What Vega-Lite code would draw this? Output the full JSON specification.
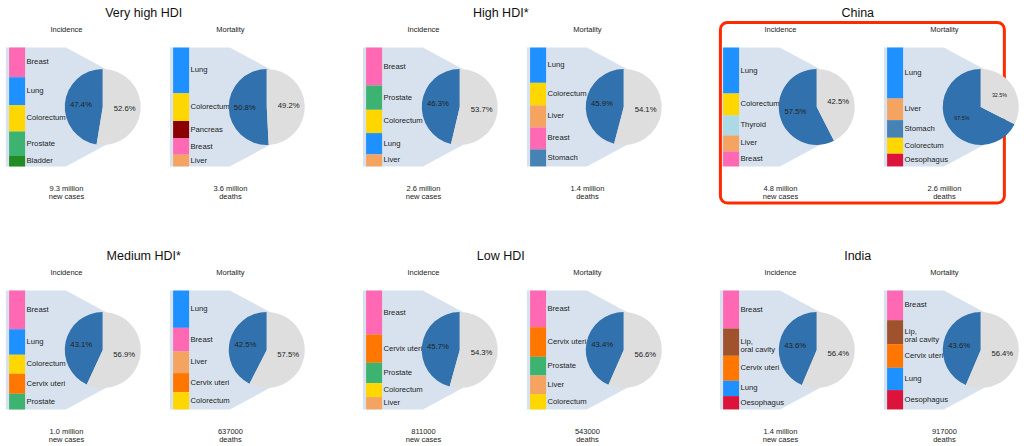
{
"$schema": "https://vega.github.io/schema/vega-lite/v6.json",
"padding": {"left": 0, "right": 0, "top": 0, "bottom": 0},
"background": "white",
"config": {"view": {"stroke": null}, "font": "Liberation Sans", "axis": {"disable": true}, "text": {"font": "Liberation Sans", "fill": "#222222"}},
"columns": 3,
"spacing": {"row": 35, "column": 48},
"datasets": {"cells": [
{"kind":"bar","region":"Very high HDI","type":"Incidence","rank":1,"cancer":"Breast","value":89},
{"kind":"bar","region":"Very high HDI","type":"Incidence","rank":2,"cancer":"Lung","value":84},
{"kind":"bar","region":"Very high HDI","type":"Incidence","rank":3,"cancer":"Colorectum","value":79},
{"kind":"bar","region":"Very high HDI","type":"Incidence","rank":4,"cancer":"Prostate","value":74},
{"kind":"bar","region":"Very high HDI","type":"Incidence","rank":5,"cancer":"Bladder","value":31},
{"kind":"bar","region":"Very high HDI","type":"Mortality","rank":1,"cancer":"Lung","value":137},
{"kind":"bar","region":"Very high HDI","type":"Mortality","rank":2,"cancer":"Colorectum","value":83},
{"kind":"bar","region":"Very high HDI","type":"Mortality","rank":3,"cancer":"Pancreas","value":52},
{"kind":"bar","region":"Very high HDI","type":"Mortality","rank":4,"cancer":"Breast","value":49},
{"kind":"bar","region":"Very high HDI","type":"Mortality","rank":5,"cancer":"Liver","value":35},
{"kind":"bar","region":"High HDI*","type":"Incidence","rank":1,"cancer":"Breast","value":114},
{"kind":"bar","region":"High HDI*","type":"Incidence","rank":2,"cancer":"Prostate","value":73},
{"kind":"bar","region":"High HDI*","type":"Incidence","rank":3,"cancer":"Colorectum","value":70},
{"kind":"bar","region":"High HDI*","type":"Incidence","rank":4,"cancer":"Lung","value":64},
{"kind":"bar","region":"High HDI*","type":"Incidence","rank":5,"cancer":"Liver","value":36},
{"kind":"bar","region":"High HDI*","type":"Mortality","rank":1,"cancer":"Lung","value":106},
{"kind":"bar","region":"High HDI*","type":"Mortality","rank":2,"cancer":"Colorectum","value":68},
{"kind":"bar","region":"High HDI*","type":"Mortality","rank":3,"cancer":"Liver","value":66},
{"kind":"bar","region":"High HDI*","type":"Mortality","rank":4,"cancer":"Breast","value":66},
{"kind":"bar","region":"High HDI*","type":"Mortality","rank":5,"cancer":"Stomach","value":51},
{"kind":"bar","region":"China","type":"Incidence","rank":1,"cancer":"Lung","value":138},
{"kind":"bar","region":"China","type":"Incidence","rank":2,"cancer":"Colorectum","value":66},
{"kind":"bar","region":"China","type":"Incidence","rank":3,"cancer":"Thyroid","value":60},
{"kind":"bar","region":"China","type":"Incidence","rank":4,"cancer":"Liver","value":48},
{"kind":"bar","region":"China","type":"Incidence","rank":5,"cancer":"Breast","value":45},
{"kind":"bar","region":"China","type":"Mortality","rank":1,"cancer":"Lung","value":153},
{"kind":"bar","region":"China","type":"Mortality","rank":2,"cancer":"Liver","value":65},
{"kind":"bar","region":"China","type":"Mortality","rank":3,"cancer":"Stomach","value":53},
{"kind":"bar","region":"China","type":"Mortality","rank":4,"cancer":"Colorectum","value":48},
{"kind":"bar","region":"China","type":"Mortality","rank":5,"cancer":"Oesophagus","value":38},
{"kind":"bar","region":"Medium HDI*","type":"Incidence","rank":1,"cancer":"Breast","value":116},
{"kind":"bar","region":"Medium HDI*","type":"Incidence","rank":2,"cancer":"Lung","value":77},
{"kind":"bar","region":"Medium HDI*","type":"Incidence","rank":3,"cancer":"Colorectum","value":57},
{"kind":"bar","region":"Medium HDI*","type":"Incidence","rank":4,"cancer":"Cervix uteri","value":60},
{"kind":"bar","region":"Medium HDI*","type":"Incidence","rank":5,"cancer":"Prostate","value":47},
{"kind":"bar","region":"Medium HDI*","type":"Mortality","rank":1,"cancer":"Lung","value":112},
{"kind":"bar","region":"Medium HDI*","type":"Mortality","rank":2,"cancer":"Breast","value":71},
{"kind":"bar","region":"Medium HDI*","type":"Mortality","rank":3,"cancer":"Liver","value":65},
{"kind":"bar","region":"Medium HDI*","type":"Mortality","rank":4,"cancer":"Cervix uteri","value":57},
{"kind":"bar","region":"Medium HDI*","type":"Mortality","rank":5,"cancer":"Colorectum","value":52},
{"kind":"bar","region":"Low HDI","type":"Incidence","rank":1,"cancer":"Breast","value":132},
{"kind":"bar","region":"Low HDI","type":"Incidence","rank":2,"cancer":"Cervix uteri","value":85},
{"kind":"bar","region":"Low HDI","type":"Incidence","rank":3,"cancer":"Prostate","value":61},
{"kind":"bar","region":"Low HDI","type":"Incidence","rank":4,"cancer":"Colorectum","value":42},
{"kind":"bar","region":"Low HDI","type":"Incidence","rank":5,"cancer":"Liver","value":37},
{"kind":"bar","region":"Low HDI","type":"Mortality","rank":1,"cancer":"Breast","value":110},
{"kind":"bar","region":"Low HDI","type":"Mortality","rank":2,"cancer":"Cervix uteri","value":89},
{"kind":"bar","region":"Low HDI","type":"Mortality","rank":3,"cancer":"Prostate","value":56},
{"kind":"bar","region":"Low HDI","type":"Mortality","rank":4,"cancer":"Liver","value":56},
{"kind":"bar","region":"Low HDI","type":"Mortality","rank":5,"cancer":"Colorectum","value":46},
{"kind":"bar","region":"India","type":"Incidence","rank":1,"cancer":"Breast","value":114},
{"kind":"bar","region":"India","type":"Incidence","rank":2,"cancer":"Lip,\noral cavity","value":82},
{"kind":"bar","region":"India","type":"Incidence","rank":3,"cancer":"Cervix uteri","value":75},
{"kind":"bar","region":"India","type":"Incidence","rank":4,"cancer":"Lung","value":46},
{"kind":"bar","region":"India","type":"Incidence","rank":5,"cancer":"Oesophagus","value":40},
{"kind":"bar","region":"India","type":"Mortality","rank":1,"cancer":"Breast","value":89},
{"kind":"bar","region":"India","type":"Mortality","rank":2,"cancer":"Lip,\noral cavity","value":72},
{"kind":"bar","region":"India","type":"Mortality","rank":3,"cancer":"Cervix uteri","value":71},
{"kind":"bar","region":"India","type":"Mortality","rank":4,"cancer":"Lung","value":67},
{"kind":"bar","region":"India","type":"Mortality","rank":5,"cancer":"Oesophagus","value":58},
{"kind":"pie","region":"Very high HDI","type":"Incidence","part":"Top 5 cancers","pct":0.474},
{"kind":"pie","region":"Very high HDI","type":"Incidence","part":"Other cancers","pct":0.526},
{"kind":"pie","region":"Very high HDI","type":"Mortality","part":"Top 5 cancers","pct":0.508},
{"kind":"pie","region":"Very high HDI","type":"Mortality","part":"Other cancers","pct":0.492},
{"kind":"pie","region":"High HDI*","type":"Incidence","part":"Top 5 cancers","pct":0.463},
{"kind":"pie","region":"High HDI*","type":"Incidence","part":"Other cancers","pct":0.537},
{"kind":"pie","region":"High HDI*","type":"Mortality","part":"Top 5 cancers","pct":0.459},
{"kind":"pie","region":"High HDI*","type":"Mortality","part":"Other cancers","pct":0.541},
{"kind":"pie","region":"China","type":"Incidence","part":"Top 5 cancers","pct":0.575},
{"kind":"pie","region":"China","type":"Incidence","part":"Other cancers","pct":0.425},
{"kind":"pie","region":"China","type":"Mortality","part":"Top 5 cancers","pct":0.675},
{"kind":"pie","region":"China","type":"Mortality","part":"Other cancers","pct":0.325},
{"kind":"pie","region":"Medium HDI*","type":"Incidence","part":"Top 5 cancers","pct":0.431},
{"kind":"pie","region":"Medium HDI*","type":"Incidence","part":"Other cancers","pct":0.569},
{"kind":"pie","region":"Medium HDI*","type":"Mortality","part":"Top 5 cancers","pct":0.425},
{"kind":"pie","region":"Medium HDI*","type":"Mortality","part":"Other cancers","pct":0.575},
{"kind":"pie","region":"Low HDI","type":"Incidence","part":"Top 5 cancers","pct":0.457},
{"kind":"pie","region":"Low HDI","type":"Incidence","part":"Other cancers","pct":0.543},
{"kind":"pie","region":"Low HDI","type":"Mortality","part":"Top 5 cancers","pct":0.434},
{"kind":"pie","region":"Low HDI","type":"Mortality","part":"Other cancers","pct":0.566},
{"kind":"pie","region":"India","type":"Incidence","part":"Top 5 cancers","pct":0.436},
{"kind":"pie","region":"India","type":"Incidence","part":"Other cancers","pct":0.564},
{"kind":"pie","region":"India","type":"Mortality","part":"Top 5 cancers","pct":0.436},
{"kind":"pie","region":"India","type":"Mortality","part":"Other cancers","pct":0.564},
{"kind":"total","region":"Very high HDI","type":"Incidence","total":"9.3 million","unit":"new cases"},
{"kind":"total","region":"Very high HDI","type":"Mortality","total":"3.6 million","unit":"deaths"},
{"kind":"total","region":"High HDI*","type":"Incidence","total":"2.6 million","unit":"new cases"},
{"kind":"total","region":"High HDI*","type":"Mortality","total":"1.4 million","unit":"deaths"},
{"kind":"total","region":"China","type":"Incidence","total":"4.8 million","unit":"new cases"},
{"kind":"total","region":"China","type":"Mortality","total":"2.6 million","unit":"deaths"},
{"kind":"total","region":"Medium HDI*","type":"Incidence","total":"1.0 million","unit":"new cases"},
{"kind":"total","region":"Medium HDI*","type":"Mortality","total":"637000","unit":"deaths"},
{"kind":"total","region":"Low HDI","type":"Incidence","total":"811000","unit":"new cases"},
{"kind":"total","region":"Low HDI","type":"Mortality","total":"543000","unit":"deaths"},
{"kind":"total","region":"India","type":"Incidence","total":"1.4 million","unit":"new cases"},
{"kind":"total","region":"India","type":"Mortality","total":"917000","unit":"deaths"}
]},
"concat": [
{"data": {"name": "cells"}, "transform": [{"filter": "datum.region === 'Very high HDI'"}],
 "facet": {"column": {"field": "type", "header": null}}, "spacing": 19, "bounds": "flush",
 "spec": {"width": 145, "height": 208, "layer": [
  {"transform": [{"filter": "datum.kind === 'total'"}], "mark": {"type": "point", "shape": "M -0.924 -1 L 0.084 -1 L 0.756 -0.639 L 0.756 0.639 L 0.084 1 L -0.924 1 Z", "filled": true, "fill": "#d8e2ef", "opacity": 1, "size": 14161, "strokeWidth": 0},
   "encoding": {"x": {"datum": 55, "type": "quantitative", "scale": {"domain": [-5, 140], "nice": false, "zero": false}, "axis": null}, "y": {"datum": 0.5, "type": "quantitative", "scale": {"domain": [-0.35, 1.4], "nice": false, "zero": false}, "axis": null}}},
  {"transform": [{"filter": "datum.kind === 'bar'"}], "mark": {"type": "bar", "orient": "vertical", "width": 16},
   "encoding": {"x": {"datum": 8, "type": "quantitative"}, "y": {"field": "value", "type": "quantitative", "stack": "normalize"}, "order": {"field": "rank", "sort": "descending"},
    "color": {"field": "cancer", "type": "nominal", "legend": null, "scale": {"domain": ["Breast","Lung","Colorectum","Prostate","Bladder","Pancreas","Liver","Stomach","Thyroid","Oesophagus","Cervix uteri","Lip,\noral cavity"], "range": ["#ff69b4","#1e90ff","#ffd700","#3cb371","#228b22","#8b0000","#f4a460","#4682b4","#add8e6","#dc143c","#ff7700","#a0522d"]}}}},
  {"transform": [{"filter": "datum.kind === 'bar'"}], "mark": {"type": "text", "align": "left", "baseline": "middle", "fontSize": 7.7, "lineBreak": "\n", "lineHeight": 8},
   "encoding": {"x": {"datum": 18, "type": "quantitative"}, "y": {"field": "value", "type": "quantitative", "stack": "normalize", "bandPosition": 0.5}, "order": {"field": "rank", "sort": "descending"}, "text": {"field": "cancer"}}},
  {"transform": [{"filter": "datum.kind === 'pie'"}], "mark": {"type": "arc", "outerRadius": 38},
   "encoding": {"x": {"datum": 100, "type": "quantitative"}, "y": {"datum": 0.5, "type": "quantitative"}, "theta": {"field": "pct", "type": "quantitative", "stack": true}, "order": {"field": "part"},
    "fill": {"field": "part", "type": "nominal", "legend": null, "scale": {"domain": ["Other cancers", "Top 5 cancers"], "range": ["#dedede", "#3171ad"]}}}},
  {"transform": [{"filter": "datum.kind === 'pie'"}], "mark": {"type": "text", "radius": 22, "baseline": "middle"},
   "encoding": {"x": {"datum": 100, "type": "quantitative"}, "y": {"datum": 0.5, "type": "quantitative"}, "theta": {"field": "pct", "type": "quantitative", "stack": true}, "order": {"field": "part"},
    "text": {"field": "pct", "type": "quantitative", "format": ".1%"}, "size": {"condition": {"test": "datum.region === 'China' && datum.type === 'Mortality'", "value": 5.4}, "value": 7.7}}},
  {"transform": [{"filter": "datum.kind === 'total'"}], "mark": {"type": "text", "fontSize": 7.5, "baseline": "middle"},
   "encoding": {"x": {"datum": 61, "type": "quantitative"}, "y": {"datum": -0.19, "type": "quantitative"}, "text": {"field": "total"}}},
  {"transform": [{"filter": "datum.kind === 'total'"}], "mark": {"type": "text", "fontSize": 7.5, "baseline": "middle"},
   "encoding": {"x": {"datum": 61, "type": "quantitative"}, "y": {"datum": -0.257, "type": "quantitative"}, "text": {"field": "unit"}}},
  {"transform": [{"filter": "datum.kind === 'total'"}], "mark": {"type": "text", "fontSize": 7.5, "baseline": "middle"},
   "encoding": {"x": {"datum": 61, "type": "quantitative"}, "y": {"datum": 1.148, "type": "quantitative"}, "text": {"field": "type"}}},
  {"transform": [{"filter": "datum.kind === 'total' && datum.type === 'Incidence'"}], "mark": {"type": "text", "fontSize": 12.5, "baseline": "middle", "fill": "#111111"},
   "encoding": {"x": {"datum": 144, "type": "quantitative"}, "y": {"datum": 1.29, "type": "quantitative"}, "text": {"field": "region"}}},
  {"transform": [{"filter": "datum.kind === 'total' && datum.type === 'Incidence' && datum.region === 'China'"}], "mark": {"type": "rect", "filled": false, "stroke": "#ff2a00", "strokeWidth": 3, "cornerRadius": 7},
   "encoding": {"x": {"datum": -3.5, "type": "quantitative"}, "x2": {"datum": 301.5}, "y": {"datum": 1.211, "type": "quantitative"}, "y2": {"datum": -0.308}}}
 ]}},
{"data": {"name": "cells"}, "transform": [{"filter": "datum.region === 'High HDI*'"}],
 "facet": {"column": {"field": "type", "header": null}}, "spacing": 19, "bounds": "flush",
 "spec": {"width": 145, "height": 208, "layer": [
  {"transform": [{"filter": "datum.kind === 'total'"}], "mark": {"type": "point", "shape": "M -0.924 -1 L 0.084 -1 L 0.756 -0.639 L 0.756 0.639 L 0.084 1 L -0.924 1 Z", "filled": true, "fill": "#d8e2ef", "opacity": 1, "size": 14161, "strokeWidth": 0},
   "encoding": {"x": {"datum": 55, "type": "quantitative", "scale": {"domain": [-5, 140], "nice": false, "zero": false}, "axis": null}, "y": {"datum": 0.5, "type": "quantitative", "scale": {"domain": [-0.35, 1.4], "nice": false, "zero": false}, "axis": null}}},
  {"transform": [{"filter": "datum.kind === 'bar'"}], "mark": {"type": "bar", "orient": "vertical", "width": 16},
   "encoding": {"x": {"datum": 8, "type": "quantitative"}, "y": {"field": "value", "type": "quantitative", "stack": "normalize"}, "order": {"field": "rank", "sort": "descending"},
    "color": {"field": "cancer", "type": "nominal", "legend": null, "scale": {"domain": ["Breast","Lung","Colorectum","Prostate","Bladder","Pancreas","Liver","Stomach","Thyroid","Oesophagus","Cervix uteri","Lip,\noral cavity"], "range": ["#ff69b4","#1e90ff","#ffd700","#3cb371","#228b22","#8b0000","#f4a460","#4682b4","#add8e6","#dc143c","#ff7700","#a0522d"]}}}},
  {"transform": [{"filter": "datum.kind === 'bar'"}], "mark": {"type": "text", "align": "left", "baseline": "middle", "fontSize": 7.7, "lineBreak": "\n", "lineHeight": 8},
   "encoding": {"x": {"datum": 18, "type": "quantitative"}, "y": {"field": "value", "type": "quantitative", "stack": "normalize", "bandPosition": 0.5}, "order": {"field": "rank", "sort": "descending"}, "text": {"field": "cancer"}}},
  {"transform": [{"filter": "datum.kind === 'pie'"}], "mark": {"type": "arc", "outerRadius": 38},
   "encoding": {"x": {"datum": 100, "type": "quantitative"}, "y": {"datum": 0.5, "type": "quantitative"}, "theta": {"field": "pct", "type": "quantitative", "stack": true}, "order": {"field": "part"},
    "fill": {"field": "part", "type": "nominal", "legend": null, "scale": {"domain": ["Other cancers", "Top 5 cancers"], "range": ["#dedede", "#3171ad"]}}}},
  {"transform": [{"filter": "datum.kind === 'pie'"}], "mark": {"type": "text", "radius": 22, "baseline": "middle"},
   "encoding": {"x": {"datum": 100, "type": "quantitative"}, "y": {"datum": 0.5, "type": "quantitative"}, "theta": {"field": "pct", "type": "quantitative", "stack": true}, "order": {"field": "part"},
    "text": {"field": "pct", "type": "quantitative", "format": ".1%"}, "size": {"condition": {"test": "datum.region === 'China' && datum.type === 'Mortality'", "value": 5.4}, "value": 7.7}}},
  {"transform": [{"filter": "datum.kind === 'total'"}], "mark": {"type": "text", "fontSize": 7.5, "baseline": "middle"},
   "encoding": {"x": {"datum": 61, "type": "quantitative"}, "y": {"datum": -0.19, "type": "quantitative"}, "text": {"field": "total"}}},
  {"transform": [{"filter": "datum.kind === 'total'"}], "mark": {"type": "text", "fontSize": 7.5, "baseline": "middle"},
   "encoding": {"x": {"datum": 61, "type": "quantitative"}, "y": {"datum": -0.257, "type": "quantitative"}, "text": {"field": "unit"}}},
  {"transform": [{"filter": "datum.kind === 'total'"}], "mark": {"type": "text", "fontSize": 7.5, "baseline": "middle"},
   "encoding": {"x": {"datum": 61, "type": "quantitative"}, "y": {"datum": 1.148, "type": "quantitative"}, "text": {"field": "type"}}},
  {"transform": [{"filter": "datum.kind === 'total' && datum.type === 'Incidence'"}], "mark": {"type": "text", "fontSize": 12.5, "baseline": "middle", "fill": "#111111"},
   "encoding": {"x": {"datum": 144, "type": "quantitative"}, "y": {"datum": 1.29, "type": "quantitative"}, "text": {"field": "region"}}},
  {"transform": [{"filter": "datum.kind === 'total' && datum.type === 'Incidence' && datum.region === 'China'"}], "mark": {"type": "rect", "filled": false, "stroke": "#ff2a00", "strokeWidth": 3, "cornerRadius": 7},
   "encoding": {"x": {"datum": -3.5, "type": "quantitative"}, "x2": {"datum": 301.5}, "y": {"datum": 1.211, "type": "quantitative"}, "y2": {"datum": -0.308}}}
 ]}},
{"data": {"name": "cells"}, "transform": [{"filter": "datum.region === 'China'"}],
 "facet": {"column": {"field": "type", "header": null}}, "spacing": 19, "bounds": "flush",
 "spec": {"width": 145, "height": 208, "layer": [
  {"transform": [{"filter": "datum.kind === 'total'"}], "mark": {"type": "point", "shape": "M -0.924 -1 L 0.084 -1 L 0.756 -0.639 L 0.756 0.639 L 0.084 1 L -0.924 1 Z", "filled": true, "fill": "#d8e2ef", "opacity": 1, "size": 14161, "strokeWidth": 0},
   "encoding": {"x": {"datum": 55, "type": "quantitative", "scale": {"domain": [-5, 140], "nice": false, "zero": false}, "axis": null}, "y": {"datum": 0.5, "type": "quantitative", "scale": {"domain": [-0.35, 1.4], "nice": false, "zero": false}, "axis": null}}},
  {"transform": [{"filter": "datum.kind === 'bar'"}], "mark": {"type": "bar", "orient": "vertical", "width": 16},
   "encoding": {"x": {"datum": 8, "type": "quantitative"}, "y": {"field": "value", "type": "quantitative", "stack": "normalize"}, "order": {"field": "rank", "sort": "descending"},
    "color": {"field": "cancer", "type": "nominal", "legend": null, "scale": {"domain": ["Breast","Lung","Colorectum","Prostate","Bladder","Pancreas","Liver","Stomach","Thyroid","Oesophagus","Cervix uteri","Lip,\noral cavity"], "range": ["#ff69b4","#1e90ff","#ffd700","#3cb371","#228b22","#8b0000","#f4a460","#4682b4","#add8e6","#dc143c","#ff7700","#a0522d"]}}}},
  {"transform": [{"filter": "datum.kind === 'bar'"}], "mark": {"type": "text", "align": "left", "baseline": "middle", "fontSize": 7.7, "lineBreak": "\n", "lineHeight": 8},
   "encoding": {"x": {"datum": 18, "type": "quantitative"}, "y": {"field": "value", "type": "quantitative", "stack": "normalize", "bandPosition": 0.5}, "order": {"field": "rank", "sort": "descending"}, "text": {"field": "cancer"}}},
  {"transform": [{"filter": "datum.kind === 'pie'"}], "mark": {"type": "arc", "outerRadius": 38},
   "encoding": {"x": {"datum": 100, "type": "quantitative"}, "y": {"datum": 0.5, "type": "quantitative"}, "theta": {"field": "pct", "type": "quantitative", "stack": true}, "order": {"field": "part"},
    "fill": {"field": "part", "type": "nominal", "legend": null, "scale": {"domain": ["Other cancers", "Top 5 cancers"], "range": ["#dedede", "#3171ad"]}}}},
  {"transform": [{"filter": "datum.kind === 'pie'"}], "mark": {"type": "text", "radius": 22, "baseline": "middle"},
   "encoding": {"x": {"datum": 100, "type": "quantitative"}, "y": {"datum": 0.5, "type": "quantitative"}, "theta": {"field": "pct", "type": "quantitative", "stack": true}, "order": {"field": "part"},
    "text": {"field": "pct", "type": "quantitative", "format": ".1%"}, "size": {"condition": {"test": "datum.region === 'China' && datum.type === 'Mortality'", "value": 5.4}, "value": 7.7}}},
  {"transform": [{"filter": "datum.kind === 'total'"}], "mark": {"type": "text", "fontSize": 7.5, "baseline": "middle"},
   "encoding": {"x": {"datum": 61, "type": "quantitative"}, "y": {"datum": -0.19, "type": "quantitative"}, "text": {"field": "total"}}},
  {"transform": [{"filter": "datum.kind === 'total'"}], "mark": {"type": "text", "fontSize": 7.5, "baseline": "middle"},
   "encoding": {"x": {"datum": 61, "type": "quantitative"}, "y": {"datum": -0.257, "type": "quantitative"}, "text": {"field": "unit"}}},
  {"transform": [{"filter": "datum.kind === 'total'"}], "mark": {"type": "text", "fontSize": 7.5, "baseline": "middle"},
   "encoding": {"x": {"datum": 61, "type": "quantitative"}, "y": {"datum": 1.148, "type": "quantitative"}, "text": {"field": "type"}}},
  {"transform": [{"filter": "datum.kind === 'total' && datum.type === 'Incidence'"}], "mark": {"type": "text", "fontSize": 12.5, "baseline": "middle", "fill": "#111111"},
   "encoding": {"x": {"datum": 144, "type": "quantitative"}, "y": {"datum": 1.29, "type": "quantitative"}, "text": {"field": "region"}}},
  {"transform": [{"filter": "datum.kind === 'total' && datum.type === 'Incidence' && datum.region === 'China'"}], "mark": {"type": "rect", "filled": false, "stroke": "#ff2a00", "strokeWidth": 3, "cornerRadius": 7},
   "encoding": {"x": {"datum": -3.5, "type": "quantitative"}, "x2": {"datum": 301.5}, "y": {"datum": 1.211, "type": "quantitative"}, "y2": {"datum": -0.308}}}
 ]}},
{"data": {"name": "cells"}, "transform": [{"filter": "datum.region === 'Medium HDI*'"}],
 "facet": {"column": {"field": "type", "header": null}}, "spacing": 19, "bounds": "flush",
 "spec": {"width": 145, "height": 208, "layer": [
  {"transform": [{"filter": "datum.kind === 'total'"}], "mark": {"type": "point", "shape": "M -0.924 -1 L 0.084 -1 L 0.756 -0.639 L 0.756 0.639 L 0.084 1 L -0.924 1 Z", "filled": true, "fill": "#d8e2ef", "opacity": 1, "size": 14161, "strokeWidth": 0},
   "encoding": {"x": {"datum": 55, "type": "quantitative", "scale": {"domain": [-5, 140], "nice": false, "zero": false}, "axis": null}, "y": {"datum": 0.5, "type": "quantitative", "scale": {"domain": [-0.35, 1.4], "nice": false, "zero": false}, "axis": null}}},
  {"transform": [{"filter": "datum.kind === 'bar'"}], "mark": {"type": "bar", "orient": "vertical", "width": 16},
   "encoding": {"x": {"datum": 8, "type": "quantitative"}, "y": {"field": "value", "type": "quantitative", "stack": "normalize"}, "order": {"field": "rank", "sort": "descending"},
    "color": {"field": "cancer", "type": "nominal", "legend": null, "scale": {"domain": ["Breast","Lung","Colorectum","Prostate","Bladder","Pancreas","Liver","Stomach","Thyroid","Oesophagus","Cervix uteri","Lip,\noral cavity"], "range": ["#ff69b4","#1e90ff","#ffd700","#3cb371","#228b22","#8b0000","#f4a460","#4682b4","#add8e6","#dc143c","#ff7700","#a0522d"]}}}},
  {"transform": [{"filter": "datum.kind === 'bar'"}], "mark": {"type": "text", "align": "left", "baseline": "middle", "fontSize": 7.7, "lineBreak": "\n", "lineHeight": 8},
   "encoding": {"x": {"datum": 18, "type": "quantitative"}, "y": {"field": "value", "type": "quantitative", "stack": "normalize", "bandPosition": 0.5}, "order": {"field": "rank", "sort": "descending"}, "text": {"field": "cancer"}}},
  {"transform": [{"filter": "datum.kind === 'pie'"}], "mark": {"type": "arc", "outerRadius": 38},
   "encoding": {"x": {"datum": 100, "type": "quantitative"}, "y": {"datum": 0.5, "type": "quantitative"}, "theta": {"field": "pct", "type": "quantitative", "stack": true}, "order": {"field": "part"},
    "fill": {"field": "part", "type": "nominal", "legend": null, "scale": {"domain": ["Other cancers", "Top 5 cancers"], "range": ["#dedede", "#3171ad"]}}}},
  {"transform": [{"filter": "datum.kind === 'pie'"}], "mark": {"type": "text", "radius": 22, "baseline": "middle"},
   "encoding": {"x": {"datum": 100, "type": "quantitative"}, "y": {"datum": 0.5, "type": "quantitative"}, "theta": {"field": "pct", "type": "quantitative", "stack": true}, "order": {"field": "part"},
    "text": {"field": "pct", "type": "quantitative", "format": ".1%"}, "size": {"condition": {"test": "datum.region === 'China' && datum.type === 'Mortality'", "value": 5.4}, "value": 7.7}}},
  {"transform": [{"filter": "datum.kind === 'total'"}], "mark": {"type": "text", "fontSize": 7.5, "baseline": "middle"},
   "encoding": {"x": {"datum": 61, "type": "quantitative"}, "y": {"datum": -0.19, "type": "quantitative"}, "text": {"field": "total"}}},
  {"transform": [{"filter": "datum.kind === 'total'"}], "mark": {"type": "text", "fontSize": 7.5, "baseline": "middle"},
   "encoding": {"x": {"datum": 61, "type": "quantitative"}, "y": {"datum": -0.257, "type": "quantitative"}, "text": {"field": "unit"}}},
  {"transform": [{"filter": "datum.kind === 'total'"}], "mark": {"type": "text", "fontSize": 7.5, "baseline": "middle"},
   "encoding": {"x": {"datum": 61, "type": "quantitative"}, "y": {"datum": 1.148, "type": "quantitative"}, "text": {"field": "type"}}},
  {"transform": [{"filter": "datum.kind === 'total' && datum.type === 'Incidence'"}], "mark": {"type": "text", "fontSize": 12.5, "baseline": "middle", "fill": "#111111"},
   "encoding": {"x": {"datum": 144, "type": "quantitative"}, "y": {"datum": 1.29, "type": "quantitative"}, "text": {"field": "region"}}},
  {"transform": [{"filter": "datum.kind === 'total' && datum.type === 'Incidence' && datum.region === 'China'"}], "mark": {"type": "rect", "filled": false, "stroke": "#ff2a00", "strokeWidth": 3, "cornerRadius": 7},
   "encoding": {"x": {"datum": -3.5, "type": "quantitative"}, "x2": {"datum": 301.5}, "y": {"datum": 1.211, "type": "quantitative"}, "y2": {"datum": -0.308}}}
 ]}},
{"data": {"name": "cells"}, "transform": [{"filter": "datum.region === 'Low HDI'"}],
 "facet": {"column": {"field": "type", "header": null}}, "spacing": 19, "bounds": "flush",
 "spec": {"width": 145, "height": 208, "layer": [
  {"transform": [{"filter": "datum.kind === 'total'"}], "mark": {"type": "point", "shape": "M -0.924 -1 L 0.084 -1 L 0.756 -0.639 L 0.756 0.639 L 0.084 1 L -0.924 1 Z", "filled": true, "fill": "#d8e2ef", "opacity": 1, "size": 14161, "strokeWidth": 0},
   "encoding": {"x": {"datum": 55, "type": "quantitative", "scale": {"domain": [-5, 140], "nice": false, "zero": false}, "axis": null}, "y": {"datum": 0.5, "type": "quantitative", "scale": {"domain": [-0.35, 1.4], "nice": false, "zero": false}, "axis": null}}},
  {"transform": [{"filter": "datum.kind === 'bar'"}], "mark": {"type": "bar", "orient": "vertical", "width": 16},
   "encoding": {"x": {"datum": 8, "type": "quantitative"}, "y": {"field": "value", "type": "quantitative", "stack": "normalize"}, "order": {"field": "rank", "sort": "descending"},
    "color": {"field": "cancer", "type": "nominal", "legend": null, "scale": {"domain": ["Breast","Lung","Colorectum","Prostate","Bladder","Pancreas","Liver","Stomach","Thyroid","Oesophagus","Cervix uteri","Lip,\noral cavity"], "range": ["#ff69b4","#1e90ff","#ffd700","#3cb371","#228b22","#8b0000","#f4a460","#4682b4","#add8e6","#dc143c","#ff7700","#a0522d"]}}}},
  {"transform": [{"filter": "datum.kind === 'bar'"}], "mark": {"type": "text", "align": "left", "baseline": "middle", "fontSize": 7.7, "lineBreak": "\n", "lineHeight": 8},
   "encoding": {"x": {"datum": 18, "type": "quantitative"}, "y": {"field": "value", "type": "quantitative", "stack": "normalize", "bandPosition": 0.5}, "order": {"field": "rank", "sort": "descending"}, "text": {"field": "cancer"}}},
  {"transform": [{"filter": "datum.kind === 'pie'"}], "mark": {"type": "arc", "outerRadius": 38},
   "encoding": {"x": {"datum": 100, "type": "quantitative"}, "y": {"datum": 0.5, "type": "quantitative"}, "theta": {"field": "pct", "type": "quantitative", "stack": true}, "order": {"field": "part"},
    "fill": {"field": "part", "type": "nominal", "legend": null, "scale": {"domain": ["Other cancers", "Top 5 cancers"], "range": ["#dedede", "#3171ad"]}}}},
  {"transform": [{"filter": "datum.kind === 'pie'"}], "mark": {"type": "text", "radius": 22, "baseline": "middle"},
   "encoding": {"x": {"datum": 100, "type": "quantitative"}, "y": {"datum": 0.5, "type": "quantitative"}, "theta": {"field": "pct", "type": "quantitative", "stack": true}, "order": {"field": "part"},
    "text": {"field": "pct", "type": "quantitative", "format": ".1%"}, "size": {"condition": {"test": "datum.region === 'China' && datum.type === 'Mortality'", "value": 5.4}, "value": 7.7}}},
  {"transform": [{"filter": "datum.kind === 'total'"}], "mark": {"type": "text", "fontSize": 7.5, "baseline": "middle"},
   "encoding": {"x": {"datum": 61, "type": "quantitative"}, "y": {"datum": -0.19, "type": "quantitative"}, "text": {"field": "total"}}},
  {"transform": [{"filter": "datum.kind === 'total'"}], "mark": {"type": "text", "fontSize": 7.5, "baseline": "middle"},
   "encoding": {"x": {"datum": 61, "type": "quantitative"}, "y": {"datum": -0.257, "type": "quantitative"}, "text": {"field": "unit"}}},
  {"transform": [{"filter": "datum.kind === 'total'"}], "mark": {"type": "text", "fontSize": 7.5, "baseline": "middle"},
   "encoding": {"x": {"datum": 61, "type": "quantitative"}, "y": {"datum": 1.148, "type": "quantitative"}, "text": {"field": "type"}}},
  {"transform": [{"filter": "datum.kind === 'total' && datum.type === 'Incidence'"}], "mark": {"type": "text", "fontSize": 12.5, "baseline": "middle", "fill": "#111111"},
   "encoding": {"x": {"datum": 144, "type": "quantitative"}, "y": {"datum": 1.29, "type": "quantitative"}, "text": {"field": "region"}}},
  {"transform": [{"filter": "datum.kind === 'total' && datum.type === 'Incidence' && datum.region === 'China'"}], "mark": {"type": "rect", "filled": false, "stroke": "#ff2a00", "strokeWidth": 3, "cornerRadius": 7},
   "encoding": {"x": {"datum": -3.5, "type": "quantitative"}, "x2": {"datum": 301.5}, "y": {"datum": 1.211, "type": "quantitative"}, "y2": {"datum": -0.308}}}
 ]}},
{"data": {"name": "cells"}, "transform": [{"filter": "datum.region === 'India'"}],
 "facet": {"column": {"field": "type", "header": null}}, "spacing": 19, "bounds": "flush",
 "spec": {"width": 145, "height": 208, "layer": [
  {"transform": [{"filter": "datum.kind === 'total'"}], "mark": {"type": "point", "shape": "M -0.924 -1 L 0.084 -1 L 0.756 -0.639 L 0.756 0.639 L 0.084 1 L -0.924 1 Z", "filled": true, "fill": "#d8e2ef", "opacity": 1, "size": 14161, "strokeWidth": 0},
   "encoding": {"x": {"datum": 55, "type": "quantitative", "scale": {"domain": [-5, 140], "nice": false, "zero": false}, "axis": null}, "y": {"datum": 0.5, "type": "quantitative", "scale": {"domain": [-0.35, 1.4], "nice": false, "zero": false}, "axis": null}}},
  {"transform": [{"filter": "datum.kind === 'bar'"}], "mark": {"type": "bar", "orient": "vertical", "width": 16},
   "encoding": {"x": {"datum": 8, "type": "quantitative"}, "y": {"field": "value", "type": "quantitative", "stack": "normalize"}, "order": {"field": "rank", "sort": "descending"},
    "color": {"field": "cancer", "type": "nominal", "legend": null, "scale": {"domain": ["Breast","Lung","Colorectum","Prostate","Bladder","Pancreas","Liver","Stomach","Thyroid","Oesophagus","Cervix uteri","Lip,\noral cavity"], "range": ["#ff69b4","#1e90ff","#ffd700","#3cb371","#228b22","#8b0000","#f4a460","#4682b4","#add8e6","#dc143c","#ff7700","#a0522d"]}}}},
  {"transform": [{"filter": "datum.kind === 'bar'"}], "mark": {"type": "text", "align": "left", "baseline": "middle", "fontSize": 7.7, "lineBreak": "\n", "lineHeight": 8},
   "encoding": {"x": {"datum": 18, "type": "quantitative"}, "y": {"field": "value", "type": "quantitative", "stack": "normalize", "bandPosition": 0.5}, "order": {"field": "rank", "sort": "descending"}, "text": {"field": "cancer"}}},
  {"transform": [{"filter": "datum.kind === 'pie'"}], "mark": {"type": "arc", "outerRadius": 38},
   "encoding": {"x": {"datum": 100, "type": "quantitative"}, "y": {"datum": 0.5, "type": "quantitative"}, "theta": {"field": "pct", "type": "quantitative", "stack": true}, "order": {"field": "part"},
    "fill": {"field": "part", "type": "nominal", "legend": null, "scale": {"domain": ["Other cancers", "Top 5 cancers"], "range": ["#dedede", "#3171ad"]}}}},
  {"transform": [{"filter": "datum.kind === 'pie'"}], "mark": {"type": "text", "radius": 22, "baseline": "middle"},
   "encoding": {"x": {"datum": 100, "type": "quantitative"}, "y": {"datum": 0.5, "type": "quantitative"}, "theta": {"field": "pct", "type": "quantitative", "stack": true}, "order": {"field": "part"},
    "text": {"field": "pct", "type": "quantitative", "format": ".1%"}, "size": {"condition": {"test": "datum.region === 'China' && datum.type === 'Mortality'", "value": 5.4}, "value": 7.7}}},
  {"transform": [{"filter": "datum.kind === 'total'"}], "mark": {"type": "text", "fontSize": 7.5, "baseline": "middle"},
   "encoding": {"x": {"datum": 61, "type": "quantitative"}, "y": {"datum": -0.19, "type": "quantitative"}, "text": {"field": "total"}}},
  {"transform": [{"filter": "datum.kind === 'total'"}], "mark": {"type": "text", "fontSize": 7.5, "baseline": "middle"},
   "encoding": {"x": {"datum": 61, "type": "quantitative"}, "y": {"datum": -0.257, "type": "quantitative"}, "text": {"field": "unit"}}},
  {"transform": [{"filter": "datum.kind === 'total'"}], "mark": {"type": "text", "fontSize": 7.5, "baseline": "middle"},
   "encoding": {"x": {"datum": 61, "type": "quantitative"}, "y": {"datum": 1.148, "type": "quantitative"}, "text": {"field": "type"}}},
  {"transform": [{"filter": "datum.kind === 'total' && datum.type === 'Incidence'"}], "mark": {"type": "text", "fontSize": 12.5, "baseline": "middle", "fill": "#111111"},
   "encoding": {"x": {"datum": 144, "type": "quantitative"}, "y": {"datum": 1.29, "type": "quantitative"}, "text": {"field": "region"}}},
  {"transform": [{"filter": "datum.kind === 'total' && datum.type === 'Incidence' && datum.region === 'China'"}], "mark": {"type": "rect", "filled": false, "stroke": "#ff2a00", "strokeWidth": 3, "cornerRadius": 7},
   "encoding": {"x": {"datum": -3.5, "type": "quantitative"}, "x2": {"datum": 301.5}, "y": {"datum": 1.211, "type": "quantitative"}, "y2": {"datum": -0.308}}}
 ]}}
]
}
